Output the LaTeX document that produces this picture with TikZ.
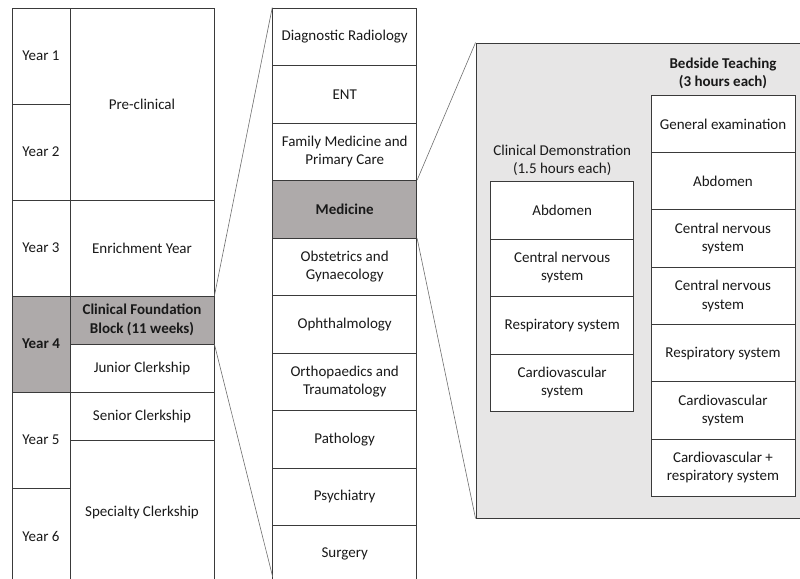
\documentclass[tikz,border=0pt]{standalone}
\usepackage{fontspec}
\setmainfont{Carlito}
\definecolor{hilite}{HTML}{AEAAAA}
\definecolor{panelbg}{HTML}{E7E6E6}
\definecolor{edge}{HTML}{3A3A3A}
\definecolor{zoomline}{HTML}{6E6E6E}
\begin{document}
\begin{tikzpicture}[x=1pt,y=-1pt,
  cell/.style={draw=edge,line width=0.9pt,fill=white,inner sep=1pt,align=center,
    font=\fontsize{15}{18.3}\selectfont,text=black!90},
  yearcell/.style={cell,minimum width=58pt,minimum height=96pt},
  phasecell/.style={cell,minimum width=144pt},
  midcell/.style={cell,minimum width=144pt,minimum height=57.5pt},
  cdcell/.style={cell,minimum width=143pt,minimum height=57.5pt},
  btcell/.style={cell,minimum width=144pt,minimum height=57.3pt},
  hot/.style={fill=hilite,font=\fontsize{15}{18.3}\selectfont\bfseries},
  zoomedge/.style={draw=zoomline,line width=0.6pt},
  heading/.style={align=center,font=\fontsize{15}{18.3}\selectfont,text=black!90}]
\useasboundingbox (0,0) rectangle (800,578);
\clip (0,0) rectangle (800,578);

% right panel
\node[draw=edge,line width=0.9pt,fill=panelbg,minimum width=330pt,minimum height=475pt,inner sep=0pt]
  (panel) at (641,280.5) {};

% left column: years
\node[yearcell] (y1) at (41,56) {Year 1};
\node[yearcell] (y2) at (41,152) {Year 2};
\node[yearcell] (y3) at (41,248) {Year 3};
\node[yearcell,hot] (y4) at (41,344) {Year 4};
\node[yearcell] (y5) at (41,440) {Year 5};
\node[yearcell] (y6) at (41,536) {Year 6};

% left column: phases
\node[phasecell,minimum height=192pt] (pre) at (142,104) {Pre-clinical};
\node[phasecell,minimum height=96pt] (enr) at (142,248) {Enrichment Year};
\node[phasecell,minimum height=48pt,hot] (cfb) at (142,320) {Clinical Foundation\\Block (11 weeks)};
\node[phasecell,minimum height=48pt] (jun) at (142,368) {Junior Clerkship};
\node[phasecell,minimum height=48pt] (sen) at (142,416) {Senior Clerkship};
\node[phasecell,minimum height=144pt] (spe) at (142,512) {Specialty Clerkship};

% middle column
\node[midcell] (m1) at (344.7,36.75) {Diagnostic Radiology};
\node[midcell] (m2) at (344.7,94.25) {ENT};
\node[midcell] (m3) at (344.7,151.75) {Family Medicine and\\Primary Care};
\node[midcell,hot] (m4) at (344.7,209.25) {Medicine};
\node[midcell] (m5) at (344.7,266.75) {Obstetrics and\\Gynaecology};
\node[midcell] (m6) at (344.7,324.25) {Ophthalmology};
\node[midcell] (m7) at (344.7,381.75) {Orthopaedics and\\Traumatology};
\node[midcell] (m8) at (344.7,439.25) {Pathology};
\node[midcell] (m9) at (344.7,496.75) {Psychiatry};
\node[midcell] (m10) at (344.7,554.25) {Surgery};
\coordinate (mbot) at (272.7,577);

% zoom connectors
\draw[zoomedge] (cfb.north east) -- (m1.north west);
\draw[zoomedge] (cfb.south east) -- (mbot);
\draw[zoomedge] (m4.north east) -- (panel.north west);
\draw[zoomedge] (m4.south east) -- (panel.south west);

% clinical demonstration
\node[heading] (cdt) at (562.2,160) {Clinical Demonstration\\(1.5 hours each)};
\node[cdcell] (c1) at (562.2,210.25) {Abdomen};
\node[cdcell] (c2) at (562.2,267.75) {Central nervous\\system};
\node[cdcell] (c3) at (562.2,325.25) {Respiratory system};
\node[cdcell] (c4) at (562.2,382.75) {Cardiovascular\\system};

% bedside teaching
\node[heading,font=\fontsize{15}{18.3}\selectfont\bfseries] (btt) at (723,73.5) {Bedside Teaching\\(3 hours each)};
\node[btcell] (b1) at (723,123.95) {General examination};
\node[btcell] (b2) at (723,181.25) {Abdomen};
\node[btcell] (b3) at (723,238.55) {Central nervous\\system};
\node[btcell] (b4) at (723,295.85) {Central nervous\\system};
\node[btcell] (b5) at (723,353.15) {Respiratory system};
\node[btcell] (b6) at (723,410.45) {Cardiovascular\\system};
\node[btcell] (b7) at (723,467.75) {Cardiovascular +\\respiratory system};
\end{tikzpicture}
\end{document}
